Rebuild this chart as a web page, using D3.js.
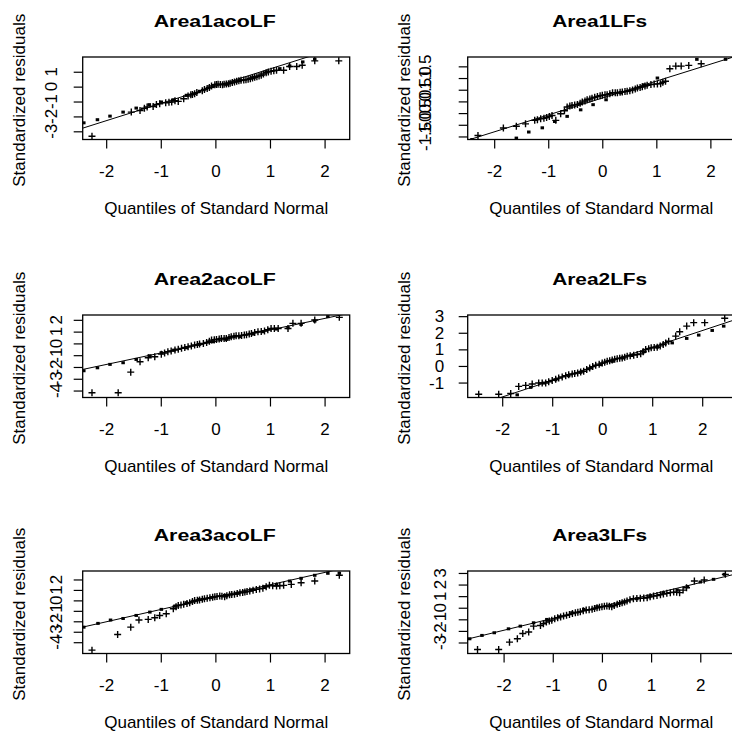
<!DOCTYPE html>
<html>
<head>
<meta charset="utf-8">
<script src="https://cdn.jsdelivr.net/npm/d3@7"></script>
<style>
  body { margin: 0; background: #fff; }
  svg { display: block; }
  text { font-family: "Liberation Sans", Arial, sans-serif; fill: #000; }
</style>
</head>
<body>
<svg id="chart" width="732" height="734"></svg>
<script>
// Normal QQ plots of standardized residuals, one panel per model fit.
const titles = ["Area1acoLF", "Area1LFs", "Area2acoLF", "Area2LFs", "Area3acoLF", "Area3LFs"];
const xLabel = "Quantiles of Standard Normal";
const yLabel = "Standardized residuals";
const xTicks = [-2, -1, 0, 1, 2];

// y tick values and their printed labels, per panel
const yTicks1 = [-3, -2, -1, 0, 1];
const yTickLabels1 = ["-3", "-2", "-1", "0", "1"];
const yTicks2 = [-1.5, -1, -0.5, 0, 0.5, 1, 1.5];
const yTickLabels2 = ["-1.5", "-1.0", "-0.5", "0.0", "0.5", "1.0", "1.5"];
const yTicks3 = [-4, -3, -2, -1, 0, 1, 2];
const yTickLabels3 = ["-4", "-3", "-2", "-1", "0", "1", "2"];
const yTicks4 = [-1, 0, 1, 2, 3];
const yTickLabels4 = ["-1", "0", "1", "2", "3"];
const yTicks5 = [-4, -3, -2, -1, 0, 1, 2];
const yTickLabels5 = ["-4", "-3", "-2", "-1", "0", "1", "2"];
const yTicks6 = [-3, -2, -1, 0, 1, 2, 3];
const yTickLabels6 = ["-3", "-2", "-1", "0", "1", "2", "3"];

// axis ranges per panel: [xmin, xmax, ymin, ymax]
const ranges = [
  [-2.43, 2.46, -3.55, 1.99],
  [-2.49, 2.45, -1.63, 1.90],
  [-2.43, 2.46, -4.59, 2.41],
  [-2.69, 2.65, -1.90, 3.07],
  [-2.43, 2.46, -5.08, 2.81],
  [-2.73, 2.70, -3.95, 3.17]
];

// reference line per panel: [intercept, slope]
const refLines = [
  [0.03, 1.16],
  [0.144, 0.724],
  [0.164, 0.977],
  [0.13, 1.0],
  [0.31, 1.18],
  [0.11, 1.03]
];

// residuals drawn with "+" : [normal quantile, standardized residual]
const plus1 = [[-2.26,-3.33],[-1.54,-1.71],[-1.38,-1.60],[-1.30,-1.45],[-1.25,-1.37],[-1.14,-1.33],[-1.08,-1.20],[-1.02,-1.15],[-0.91,-1.08],[-0.85,-1.05],[-0.80,-1.03],[-0.74,-0.95],[-0.68,-0.99],[-0.58,-0.81],[-0.50,-0.63],[-0.45,-0.55],[-0.42,-0.52],[-0.38,-0.47],[-0.34,-0.40],[-0.24,-0.27],[-0.20,-0.20],[-0.15,-0.13],[-0.11,-0.05],[-0.07,0.04],[-0.01,0.13],[0.02,0.14],[0.05,0.16],[0.09,0.15],[0.13,0.13],[0.16,0.16],[0.20,0.18],[0.24,0.20],[0.27,0.22],[0.31,0.27],[0.35,0.31],[0.39,0.36],[0.43,0.40],[0.47,0.43],[0.52,0.45],[0.56,0.47],[0.60,0.49],[0.64,0.53],[0.68,0.58],[0.72,0.63],[0.76,0.67],[0.80,0.72],[0.84,0.76],[0.88,0.85],[0.93,0.94],[0.97,0.99],[1.02,1.03],[1.07,1.07],[1.12,1.10],[1.25,1.10],[1.36,1.35],[1.49,1.35],[1.59,1.44],[1.82,1.73],[2.26,1.73]];
const plus2 = [[-2.30,-1.46],[-1.83,-1.14],[-1.59,-1.06],[-1.42,-0.96],[-1.25,-0.81],[-1.20,-0.78],[-1.14,-0.74],[-1.08,-0.72],[-1.03,-0.69],[-0.98,-0.65],[-0.93,-0.60],[-0.86,-0.81],[-0.77,-0.53],[-0.70,-0.40],[-0.65,-0.24],[-0.60,-0.20],[-0.56,-0.17],[-0.51,-0.15],[-0.46,-0.13],[-0.41,-0.08],[-0.37,-0.03],[-0.32,0.02],[-0.28,0.07],[-0.23,0.10],[-0.19,0.14],[-0.14,0.18],[-0.09,0.21],[-0.04,0.24],[0.00,0.26],[0.05,0.28],[0.09,0.29],[0.14,0.33],[0.19,0.37],[0.24,0.37],[0.28,0.37],[0.33,0.39],[0.37,0.40],[0.42,0.42],[0.46,0.43],[0.51,0.46],[0.56,0.49],[0.61,0.53],[0.65,0.57],[0.70,0.60],[0.74,0.63],[0.79,0.66],[0.83,0.69],[0.90,0.72],[0.96,0.74],[1.02,0.75],[1.08,0.76],[1.12,0.82],[1.17,0.86],[1.25,1.40],[1.36,1.51],[1.46,1.51],[1.60,1.54],[1.83,1.61]];
const plus3 = [[-2.26,-4.19],[-1.78,-4.19],[-1.55,-2.44],[-1.38,-1.56],[-1.23,-1.22],[-1.11,-1.13],[-0.99,-0.91],[-0.93,-0.81],[-0.87,-0.71],[-0.81,-0.64],[-0.74,-0.57],[-0.68,-0.50],[-0.62,-0.42],[-0.56,-0.35],[-0.50,-0.28],[-0.44,-0.21],[-0.38,-0.14],[-0.33,-0.10],[-0.29,-0.06],[-0.22,0.00],[-0.16,0.08],[-0.11,0.18],[-0.07,0.28],[-0.02,0.31],[0.02,0.34],[0.07,0.38],[0.11,0.42],[0.16,0.42],[0.20,0.42],[0.25,0.50],[0.29,0.57],[0.34,0.61],[0.38,0.65],[0.43,0.66],[0.48,0.68],[0.53,0.71],[0.57,0.74],[0.62,0.80],[0.66,0.85],[0.72,0.92],[0.78,0.99],[0.84,1.02],[0.90,1.05],[0.96,1.16],[1.02,1.27],[1.08,1.27],[1.15,1.27],[1.33,1.27],[1.42,1.70],[1.57,1.70],[1.82,1.98],[2.27,2.21]];
const plus4 = [[-2.47,-1.70],[-2.07,-1.70],[-1.83,-1.66],[-1.67,-1.23],[-1.53,-1.17],[-1.40,-1.09],[-1.27,-1.03],[-1.20,-1.03],[-1.13,-1.03],[-1.07,-0.95],[-1.00,-0.87],[-0.93,-0.80],[-0.87,-0.73],[-0.80,-0.66],[-0.73,-0.59],[-0.67,-0.53],[-0.60,-0.48],[-0.55,-0.45],[-0.49,-0.42],[-0.43,-0.37],[-0.37,-0.32],[-0.31,-0.22],[-0.25,-0.12],[-0.19,-0.04],[-0.13,0.04],[-0.06,0.11],[0.00,0.18],[0.05,0.23],[0.10,0.28],[0.15,0.32],[0.20,0.36],[0.25,0.40],[0.30,0.44],[0.35,0.46],[0.40,0.48],[0.45,0.53],[0.50,0.59],[0.56,0.62],[0.63,0.65],[0.70,0.69],[0.77,0.73],[0.82,0.86],[0.87,0.99],[0.93,1.04],[0.98,1.09],[1.04,1.11],[1.10,1.13],[1.16,1.21],[1.22,1.29],[1.27,1.39],[1.33,1.49],[1.47,1.80],[1.55,2.06],[1.69,2.40],[1.83,2.61],[2.05,2.61],[2.45,2.87]];
const plus5 = [[-2.26,-4.76],[-1.79,-3.26],[-1.55,-2.56],[-1.40,-1.88],[-1.23,-1.82],[-1.11,-1.66],[-1.02,-1.44],[-0.90,-1.28],[-0.77,-0.80],[-0.72,-0.62],[-0.68,-0.48],[-0.63,-0.43],[-0.58,-0.38],[-0.52,-0.30],[-0.47,-0.22],[-0.42,-0.11],[-0.38,0.00],[-0.33,0.02],[-0.29,0.03],[-0.24,0.10],[-0.20,0.16],[-0.15,0.21],[-0.10,0.26],[-0.05,0.30],[-0.01,0.35],[0.03,0.38],[0.08,0.42],[0.12,0.40],[0.17,0.35],[0.21,0.45],[0.26,0.54],[0.30,0.56],[0.35,0.58],[0.40,0.65],[0.45,0.73],[0.50,0.76],[0.54,0.80],[0.58,0.85],[0.63,0.89],[0.69,0.97],[0.75,1.05],[0.81,1.10],[0.87,1.15],[0.93,1.30],[0.99,1.44],[1.05,1.40],[1.12,1.37],[1.18,1.40],[1.25,1.44],[1.39,1.53],[1.57,1.69],[1.82,1.85],[2.27,2.40]];
const plus6 = [[-2.53,-3.60],[-2.10,-3.60],[-1.88,-2.97],[-1.72,-2.68],[-1.61,-2.22],[-1.49,-2.10],[-1.39,-1.59],[-1.25,-1.53],[-1.19,-1.38],[-1.13,-1.24],[-1.07,-1.15],[-1.02,-1.07],[-0.96,-0.96],[-0.90,-0.86],[-0.84,-0.79],[-0.78,-0.72],[-0.72,-0.65],[-0.66,-0.58],[-0.60,-0.50],[-0.54,-0.43],[-0.49,-0.39],[-0.44,-0.35],[-0.38,-0.27],[-0.32,-0.20],[-0.26,-0.17],[-0.20,-0.14],[-0.15,-0.07],[-0.10,0.00],[-0.05,0.05],[0.00,0.09],[0.05,0.12],[0.10,0.14],[0.15,0.12],[0.20,0.09],[0.25,0.19],[0.31,0.29],[0.36,0.36],[0.41,0.43],[0.46,0.50],[0.51,0.58],[0.57,0.68],[0.64,0.78],[0.71,0.80],[0.78,0.81],[0.85,0.83],[0.92,0.86],[0.98,0.94],[1.05,1.01],[1.12,1.06],[1.19,1.12],[1.25,1.18],[1.32,1.24],[1.39,1.30],[1.46,1.35],[1.52,1.33],[1.58,1.30],[1.65,1.52],[1.72,1.73],[1.88,2.31],[2.08,2.39],[2.51,2.88]];

// residuals drawn with a small dot
const dots1 = [[-2.41,-2.43],[-2.16,-2.22],[-1.93,-1.98],[-1.69,-1.71],[-1.45,-1.44],[-1.21,-1.21],[-0.99,-1.03],[-0.76,-0.88],[-0.53,-0.58],[-0.29,-0.31],[-0.05,0.00],[0.20,0.16],[0.45,0.40],[0.69,0.63],[0.93,0.99],[1.18,1.21],[1.36,1.39],[1.60,1.66],[1.82,1.84]];
const dots2 = [[-2.41,-1.63],[-1.59,-1.57],[-1.36,-1.31],[-1.11,-1.13],[-0.88,-0.86],[-0.65,-0.64],[-0.40,-0.36],[-0.17,-0.14],[0.07,0.07],[0.34,0.37],[0.77,0.71],[1.02,1.00],[1.75,1.80],[2.28,1.80]];
const dots3 = [[-2.41,-2.32],[-2.16,-2.07],[-1.93,-1.78],[-1.69,-1.64],[-1.45,-1.36],[-1.20,-1.05],[-0.99,-0.79],[-0.76,-0.57],[-0.53,-0.37],[-0.29,-0.08],[-0.04,0.14],[0.20,0.34],[0.45,0.57],[0.69,0.79],[0.87,0.99],[1.12,1.22],[1.33,1.33],[1.57,1.61],[1.82,1.90],[2.06,2.27]];
const dots4 = [[-1.70,-1.74],[-1.43,-1.29],[-1.17,-1.03],[-0.93,-0.83],[-0.67,-0.59],[-0.43,-0.38],[-0.23,-0.12],[-0.03,0.08],[0.20,0.28],[0.40,0.48],[0.60,0.63],[0.83,0.85],[1.10,1.13],[1.40,1.39],[1.69,1.66],[1.93,1.86],[2.20,2.14],[2.43,2.40]];
const dots5 = [[-2.41,-2.56],[-2.15,-2.20],[-1.92,-1.88],[-1.69,-1.73],[-1.45,-1.44],[-1.20,-1.12],[-0.99,-0.86],[-0.74,-0.54],[-0.53,-0.22],[-0.30,0.10],[-0.07,0.26],[0.17,0.48],[0.41,0.67],[0.66,0.99],[0.90,1.31],[1.12,1.53],[1.36,1.85],[1.57,2.11],[1.82,2.40],[2.06,2.59],[2.27,2.59]];
const dots6 = [[-2.69,-2.68],[-2.44,-2.39],[-2.19,-2.16],[-1.90,-1.82],[-1.66,-1.59],[-1.39,-1.30],[-1.12,-1.01],[-0.88,-0.78],[-0.61,-0.43],[-0.37,-0.14],[-0.10,0.09],[0.17,0.20],[0.44,0.49],[0.71,0.78],[0.98,1.01],[1.25,1.30],[1.53,1.53],[1.74,1.82],[2.00,2.22],[2.27,2.45],[2.49,2.88]];

const plusSets = [plus1, plus2, plus3, plus4, plus5, plus6];
const dotSets = [dots1, dots2, dots3, dots4, dots5, dots6];
const yTickSets = [yTicks1, yTicks2, yTicks3, yTicks4, yTicks5, yTicks6];
const yTickLabelSets = [yTickLabels1, yTickLabels2, yTickLabels3, yTickLabels4, yTickLabels5, yTickLabels6];

// page layout: 3 rows x 2 columns of equally sized plot boxes
const colLeft = [82.7, 467.7];
const rowTop = [57, 315, 571];
const boxW = 267, boxH = 82.5;
const tickLen = 9;
const titleWidths = [122, 95];
// per panel: y tick labels upright or rotated, and the gap between box and labels
const yLabelUpright = [false, false, false, true, false, false];
const yLabelGap = [26, 36.5, 21, 23.5, 21, 21.5];

const svg = d3.select("#chart");
const defs = svg.append("defs");

titles.forEach((title, i) => {
  const col = i % 2, row = Math.floor(i / 2);
  const x0 = colLeft[col], y0 = rowTop[row];
  const [xmin, xmax, ymin, ymax] = ranges[i];
  const x = d3.scaleLinear().domain([xmin, xmax]).range([0, boxW]);
  const y = d3.scaleLinear().domain([ymin, ymax]).range([boxH, 0]);

  const g = svg.append("g").attr("transform", `translate(${x0},${y0})`);

  defs.append("clipPath").attr("id", "clip" + i)
    .append("rect").attr("x", 0).attr("y", 0).attr("width", boxW).attr("height", boxH);

  const plot = g.append("g").attr("clip-path", `url(#clip${i})`);

  // reference line
  const [a, b] = refLines[i];
  plot.append("line")
    .attr("x1", x(xmin)).attr("y1", y(a + b * xmin))
    .attr("x2", x(xmax)).attr("y2", y(a + b * xmax))
    .attr("stroke", "#000").attr("stroke-width", 1);

  // "+" residuals
  plot.selectAll("path.plus").data(plusSets[i]).join("path")
    .attr("class", "plus")
    .attr("d", d => `M${x(d[0]) - 3.5},${y(d[1])}H${x(d[0]) + 3.5}M${x(d[0])},${y(d[1]) - 3.5}V${y(d[1]) + 3.5}`)
    .attr("stroke", "#000").attr("stroke-width", 1.4).attr("fill", "none");

  // dot residuals
  plot.selectAll("rect.dot").data(dotSets[i]).join("rect")
    .attr("class", "dot")
    .attr("x", d => x(d[0]) - 1.75).attr("y", d => y(d[1]) - 1.5)
    .attr("width", 3.5).attr("height", 3)
    .attr("fill", "#000");

  // box
  g.append("rect").attr("x", 0).attr("y", 0).attr("width", boxW).attr("height", boxH)
    .attr("fill", "none").attr("stroke", "#000").attr("stroke-width", 1.3);

  // x axis
  const xAxis = d3.axisBottom(x).tickValues(xTicks).tickSize(tickLen).tickPadding(0)
    .tickFormat(d => String(d).replace("\u2212", "-"));
  const gx = g.append("g").attr("transform", `translate(0,${boxH})`).call(xAxis);
  gx.select(".domain").remove();
  gx.selectAll(".tick line").attr("stroke", "#000").attr("stroke-width", 1.2);
  gx.selectAll(".tick text").attr("dy", null).attr("y", 37).attr("font-size", 17)
    .attr("font-family", "Liberation Sans, Arial, sans-serif").attr("fill", "#000");

  // y axis
  const labels = yTickLabelSets[i];
  const ticks = yTickSets[i];
  const yAxis = d3.axisLeft(y).tickValues(ticks).tickSize(tickLen).tickFormat("");
  const gy = g.append("g").call(yAxis);
  gy.select(".domain").remove();
  gy.selectAll(".tick line").attr("stroke", "#000").attr("stroke-width", 1.2);
  gy.selectAll(".tick text").remove();
  ticks.forEach((t, k) => {
    if (yLabelUpright[i]) {
      g.append("text").attr("x", -yLabelGap[i]).attr("y", y(t) + 6)
        .attr("text-anchor", "end").attr("font-size", 17).text(labels[k]);
    } else {
      g.append("text").attr("transform", `translate(${-yLabelGap[i]},${y(t)}) rotate(-90)`)
        .attr("text-anchor", "middle").attr("font-size", 17).text(labels[k]);
    }
  });

  // titles and axis names
  g.append("text").attr("x", boxW / 2 - 1.5).attr("y", -30)
    .attr("text-anchor", "middle").attr("font-size", 16).attr("font-weight", "bold")
    .attr("textLength", titleWidths[col]).attr("lengthAdjust", "spacingAndGlyphs")
    .text(title);
  g.append("text").attr("x", boxW / 2).attr("y", boxH + 74)
    .attr("text-anchor", "middle").attr("font-size", 17).text(xLabel);
  g.append("text").attr("transform", `translate(-58,${boxH / 2 + 2}) rotate(-90)`)
    .attr("text-anchor", "middle").attr("font-size", 17).text(yLabel);
});
</script>
</body>
</html>
